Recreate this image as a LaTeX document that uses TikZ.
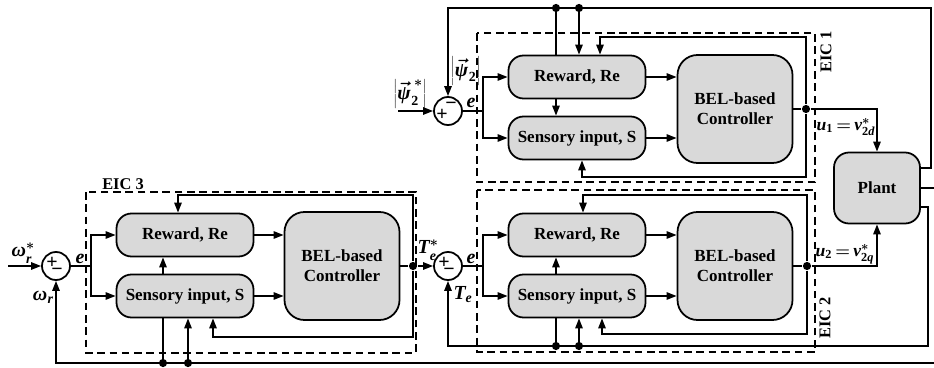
\documentclass[tikz,border=0pt]{standalone}
\usepackage{mathspec}
\setmainfont{Liberation Serif}
\setmathsfont(Digits,Latin,Greek)[UprightFont={Liberation Serif Bold},ItalicFont={Liberation Serif Bold Italic}]{Liberation Serif}
\usetikzlibrary{arrows.meta}

\begin{document}
\begin{tikzpicture}
    [x=0.03cm, y=-0.03cm,
    line width=1.5pt,
    >={Triangle[length=0.3cm,width=0.22cm]},
    block/.style={draw, rounded corners=0.45cm, fill=black!15,
        minimum width=4.11cm, minimum height=1.29cm,
        font=\fontsize{14.5}{17}\selectfont\bfseries},
    belblock/.style={block, rounded corners=0.6cm, align=center,
        minimum width=3.45cm, minimum height=3.24cm},
    sumnode/.style={draw, circle, minimum size=0.84cm, inner sep=0pt},
    sgn/.style={font=\fontsize{17}{17}\selectfont\bfseries, inner sep=0pt},
    jdot/.style={circle, fill, inner sep=0pt, minimum size=7pt},
    eic/.style={line width=1pt, dash pattern=on 6.5pt off 4pt},
    eiclabel/.style={font=\fontsize{14}{16}\selectfont\bfseries},
    lbl/.style={font=\fontsize{17}{19}\selectfont\boldmath, inner sep=0pt},
    outlbl/.style={lbl, font=\fontsize{15}{17}\selectfont\boldmath, anchor=east}]

    \useasboundingbox (0,0) rectangle (934,367);

    % EIC 1
    \node[sumnode] (sum1) at (448,111) {};
    \node[block] (rew1) at (577,77) {Reward, Re};
    \node[block] (sen1) at (577,138) {Sensory input, S};
    \node[belblock] (bel1) at (735,109) {BEL-based\\Controller};
    \node[jdot] (dot1) at (806,109) {};

    % EIC 2
    \node[sumnode] (sum2) at (448,266) {};
    \node[block] (rew2) at (577,235) {Reward, Re};
    \node[block] (sen2) at (577,296) {Sensory input, S};
    \node[belblock] (bel2) at (735,266) {BEL-based\\Controller};
    \node[jdot] (dot2) at (807,266) {};

    % EIC 3
    \node[sumnode] (sum3) at (56,266) {};
    \node[block] (rew3) at (185,235) {Reward, Re};
    \node[block] (sen3) at (185,296) {Sensory input, S};
    \node[belblock] (bel3) at (342,266) {BEL-based\\Controller};
    \node[jdot] (dot3) at (413,266) {};

    \node[block, minimum width=2.58cm, minimum height=2.13cm] (plant) at (877,188) {Plant};

    % helper points
    \coordinate (in1) at (398,111);
    \coordinate (in3) at (8,266);
    \coordinate (br1) at (483,111);
    \coordinate (br2) at (483,266);
    \coordinate (br3) at (91,266);
    \coordinate (t1) at (556,8);
    \coordinate (t2) at (579,8);
    \coordinate (b2a) at (556,346);
    \coordinate (b2b) at (579,346);
    \coordinate (b3a) at (163,363);
    \coordinate (b3b) at (188,363);
    \coordinate (lp1a) at (600,37);
    \coordinate (lp1b) at (582,177);
    \coordinate (lp2a) at (583,195);
    \coordinate (lp2b) at (602,334);
    \coordinate (lp3a) at (178,195);
    \coordinate (lp3b) at (213,337);
    \coordinate (r1) at (931,168);
    \coordinate (r3) at (928,207);
    \coordinate (edge) at (934,363);

    % dashed frames
    \draw[eic] (477,33) rectangle (815,182);
    \draw[eic] (477,190) rectangle (815,352);
    \draw[eic] (86,192) rectangle (416,353);
    \node[eiclabel, rotate=90] (eic1) at (826,52) {EIC 1};
    \node[eiclabel, rotate=90] (eic2) at (825,318) {EIC 2};
    \node[eiclabel] (eic3) at (123,184) {EIC 3};

    % signs
    \node[sgn] (p1) at ([shift={(-6,4)}]sum1) {+};
    \node[sgn] (m1) at ([shift={(3,-5)}]sum1) {−};
    \node[sgn] (p2) at ([shift={(-4,-3)}]sum2) {+};
    \node[sgn] (m2) at ([shift={(1,6)}]sum2) {−};
    \node[sgn] (p3) at ([shift={(-4,-3)}]sum3) {+};
    \node[sgn] (m3) at ([shift={(1,6)}]sum3) {−};

    % EIC 1 wiring
    \draw[->] (in1) -- (sum1);
    \draw (sum1) -- (br1);
    \draw[->] (br1) |- (rew1.west);
    \draw[->] (br1) |- (sen1.west);
    \draw[->] (rew1.east) -- (rew1.east -| bel1.west);
    \draw[->] (sen1.east) -- (sen1.east -| bel1.west);
    \draw[->] (t1 |- rew1.south) -- (t1 |- sen1.north);
    \draw (bel1) -- (dot1);
    \draw[->] (dot1) |- (lp1a) -- (lp1a |- rew1.north);
    \draw[->] (dot1) |- (lp1b) -- (lp1b |- sen1.south);
    \draw[->] (dot1) -| (plant.north);
    \draw[->] (r1 -| plant.east) -- (r1) |- (t1) -| (sum1.north);
    \draw (t1) -- (t1 |- rew1.north);
    \draw[->] (t2) -- (t2 |- rew1.north);
    \node[jdot] (d1a) at (t1) {};
    \node[jdot] (d1b) at (t2) {};

    % EIC 2 wiring
    \draw[->] (dot3) -- (sum2);
    \draw (sum2) -- (br2);
    \draw[->] (br2) |- (rew2.west);
    \draw[->] (br2) |- (sen2.west);
    \draw[->] (rew2.east) -- (rew2.east -| bel2.west);
    \draw[->] (sen2.east) -- (sen2.east -| bel2.west);
    \draw[->] (b2a |- sen2.north) -- (b2a |- rew2.south);
    \draw (bel2) -- (dot2);
    \draw[->] (dot2) |- (lp2a) -- (lp2a |- rew2.north);
    \draw[->] (dot2) |- (lp2b) -- (lp2b |- sen2.south);
    \draw[->] (dot2) -| (plant.south);
    \draw[->] (r3 -| plant.east) -- (r3) |- (b2b) -| (sum2.south);
    \draw (b2a) -- (b2a |- sen2.south);
    \draw[->] (b2b) -- (b2b |- sen2.south);
    \node[jdot] (d2a) at (b2a) {};
    \node[jdot] (d2b) at (b2b) {};

    % EIC 3 wiring
    \draw[->] (in3) -- (sum3);
    \draw (sum3) -- (br3);
    \draw[->] (br3) |- (rew3.west);
    \draw[->] (br3) |- (sen3.west);
    \draw[->] (rew3.east) -- (rew3.east -| bel3.west);
    \draw[->] (sen3.east) -- (sen3.east -| bel3.west);
    \draw[->] (b3a |- sen3.north) -- (b3a |- rew3.south);
    \draw (bel3) -- (dot3);
    \draw[->] (dot3) |- (lp3a) -- (lp3a |- rew3.north);
    \draw[->] (dot3) |- (lp3b) -- (lp3b |- sen3.south);
    \draw (plant.east) -- (plant.east -| edge);
    \draw[->] (edge) -| (sum3.south);
    \draw (b3a) -- (b3a |- sen3.south);
    \draw[->] (b3b) -- (b3b |- sen3.south);
    \node[jdot] (d3a) at (b3a) {};
    \node[jdot] (d3b) at (b3b) {};

    % signal labels
    \node[lbl] (l-psiref) at (410,94) {$\left|\vec{\psi}_2^{\,*}\right|$};
    \node[lbl, anchor=west] (l-psi) at (450,71) {$\left|\vec{\psi}_2\right|$};
    \node[lbl] (l-e1) at (471,103) {$e$};
    \node[lbl] (l-e2) at (471,259) {$e$};
    \node[lbl] (l-e3) at (80,259) {$e$};
    \node[lbl] (l-wref) at (23,253) {$\omega_r^*$};
    \node[lbl] (l-w) at (43,297) {$\omega_r$};
    \node[lbl] (l-teref) at (428,250) {$T_e^*$};
    \node[lbl] (l-te) at (463,295) {$T_e$};
    \node[outlbl] (l-u1) at (876,127) {$u_1\,{=}\,v_{2d}^*$};
    \node[outlbl] (l-u2) at (875,254) {$u_2\,{=}\,v_{2q}^*$};

\end{tikzpicture}
\end{document}
